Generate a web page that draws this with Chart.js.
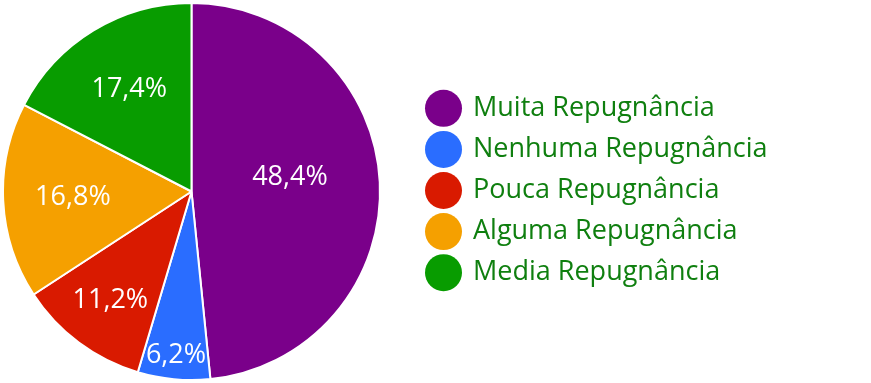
<!DOCTYPE html>
<html>
<head>
<meta charset="utf-8">
<script src="https://cdn.jsdelivr.net/npm/chart.js@4.4.0/dist/chart.umd.min.js"></script>
<style>
  html, body { margin: 0; padding: 0; background: #ffffff; }
  #wrap { width: 871px; height: 383px; position: relative; }
</style>
</head>
<body>
<div id="wrap"><canvas id="pie"></canvas></div>
<script>
// categories and values (percent)
const categories = [
  "Muita Repugnância",
  "Nenhuma Repugnância",
  "Pouca Repugnância",
  "Alguma Repugnância",
  "Media Repugnância",
];
const percents = [48.4, 6.2, 11.2, 16.8, 17.4];
const sliceColors = ["#7a008a", "#2a6dff", "#d91a00", "#f5a000", "#089c00"];

//label distance from center (fraction of radius) and angle nudge (degrees)
const labelRadius = [0.528, 0.875, 0.72, 0.63, 0.635];
const labelTurn = [-5.5, 0, 0, 0, 0];

const FONT = "'Open Sans', 'DejaVu Sans', sans-serif";

//percent labels inside the slices
const sliceLabels = {
  id: "sliceLabels",
  afterDatasetsDraw(chart) {
    const ctx = chart.ctx;
    const meta = chart.getDatasetMeta(0);
    ctx.save();
    ctx.fillStyle = "#ffffff";
    ctx.font = "27px " + FONT;
    ctx.textAlign = "center";
    ctx.textBaseline = "middle";
    meta.data.forEach((arc, i) => {
      const p = arc.getProps(["x", "y", "startAngle", "endAngle", "outerRadius"], true);
      const mid = (p.startAngle + p.endAngle) / 2 + labelTurn[i] * Math.PI / 180;
      const r = p.outerRadius * labelRadius[i];
      const txt = percents[i].toFixed(1).replace(".", ",") + "%";
      ctx.fillText(txt, p.x + Math.cos(mid) * r, p.y + Math.sin(mid) * r);
    });
    ctx.restore();
  },
};

//legend on the right side
const sideLegend = {
  id: "sideLegend",
  afterDraw(chart) {
    const ctx = chart.ctx;
    const colors = chart.data.datasets[0].backgroundColor;
    ctx.save();
    ctx.font = "27px " + FONT;
    ctx.textBaseline = "middle";
    chart.data.labels.forEach((lab, i) => {
      const cy = 108.3 + i * 41.1;
      ctx.beginPath();
      ctx.arc(443.5, cy, 18.5, 0, Math.PI * 2);
      ctx.fillStyle = colors[i];
      ctx.fill();
      ctx.fillStyle = "#0f7f0f";
      ctx.fillText(lab, 473, cy);
    });
    ctx.restore();
  },
};

const canvas = document.getElementById("pie");
canvas.width = 871;
canvas.height = 383;

new Chart(canvas, {
  type: "pie",
  data: {
    labels: categories,
    datasets: [
      {
        data: percents,
        backgroundColor: sliceColors,
        borderColor: "#ffffff",
        borderWidth: 2,
      },
    ],
  },
  options: {
    responsive: false,
    animation: false,
    layout: { padding: { left: 2, top: 2, bottom: 2, right: 490 } },
    plugins: {
      legend: { display: false },
      tooltip: { enabled: false },
    },
  },
  plugins: [sliceLabels, sideLegend],
});
</script>
</body>
</html>
